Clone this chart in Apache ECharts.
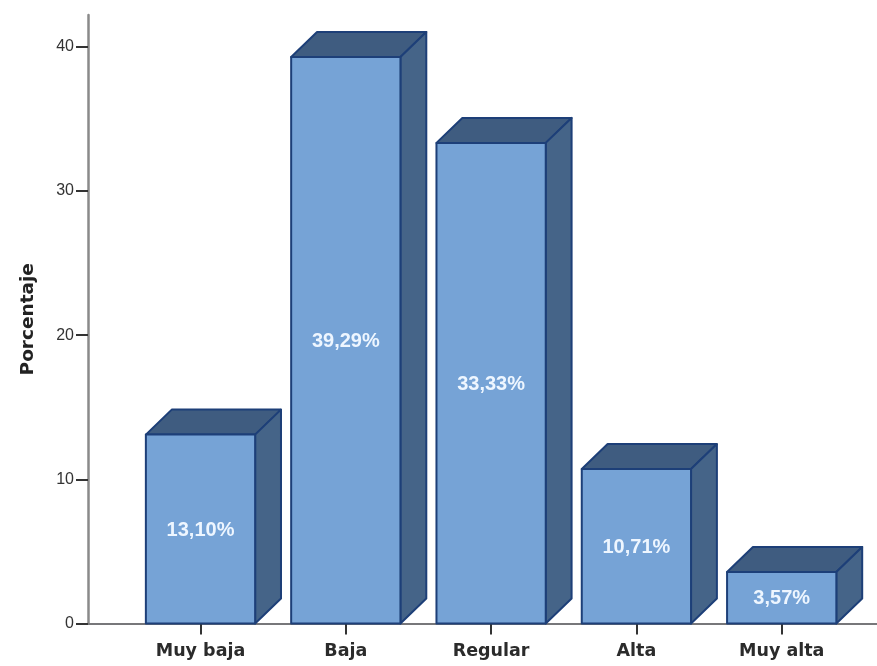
<!DOCTYPE html>
<html>
<head>
<meta charset="utf-8">
<style>html,body{margin:0;padding:0;background:#fff}#c{width:877px;height:666px}</style>
<script src="https://cdn.jsdelivr.net/npm/echarts@6/dist/echarts.min.js"></script>
</head>
<body>
<div id="c"></div>
<script>
const categories = ['Muy baja', 'Baja', 'Regular', 'Alta', 'Muy alta'];
const percentages = [13.10, 39.29, 33.33, 10.71, 3.57];
const valueLabels = ['13,10%', '39,29%', '33,33%', '10,71%', '3,57%'];
const yTicks = [0, 10, 20, 30, 40];
const yMax = 42.2;

const chart = echarts.init(document.getElementById('c'), null, {renderer: 'canvas'});
const EDGE = '#1d3f78', FRONT = '#76a3d6', TOP = '#3f5c80', SIDE = '#456488';

function renderBar(params, api) {
  const idx = api.value(0), val = api.value(1);
  const top = api.coord([idx, val]);
  const base = api.coord([idx, 0]);
  const band = api.size([1, 0])[0];
  const w = band * 0.752, dx = band * 0.178, dy = band * 0.172;
  const l = top[0] - w / 2, r = top[0] + w / 2, t = top[1], b = base[1];
  const stroke = {stroke: EDGE, lineWidth: 2, lineJoin: 'round'};
  return {
    type: 'group',
    children: [
      {type: 'polygon', shape: {points: [[l, t], [r, t], [r + dx, t - dy], [l + dx, t - dy]]},
        style: Object.assign({fill: TOP}, stroke)},
      {type: 'polygon', shape: {points: [[r, t], [r + dx, t - dy], [r + dx, b - dy], [r, b]]},
        style: Object.assign({fill: SIDE}, stroke)},
      {type: 'rect', shape: {x: l, y: t, width: w, height: b - t},
        style: Object.assign({fill: FRONT}, stroke)},
      {type: 'text', x: top[0], y: (t + b) / 2 + 1,
        style: {text: valueLabels[idx], fill: '#eef6ff', font: 'bold 20px "Liberation Sans"',
          align: 'center', verticalAlign: 'middle'}}
    ]
  };
}

chart.setOption({
  animation: false,
  backgroundColor: '#ffffff',
  grid: [
    {left: 127.85, top: 15, width: 726.5, height: 608.5},
    {left: 88, top: 15, width: 789, height: 608.5}
  ],
  xAxis: [
    {type: 'category', gridIndex: 0, data: categories,
      axisLine: {show: false},
      axisTick: {show: true, alignWithLabel: true, length: 11, lineStyle: {color: '#333', width: 2}},
      axisLabel: {margin: 19, color: '#2b2b2b', fontFamily: 'DejaVu Sans', fontWeight: 'bold', fontSize: 17.5}},
    {type: 'value', gridIndex: 1, min: 0, max: 1,
      axisLine: {show: true, onZero: false, lineStyle: {color: '#77777a', width: 2}},
      axisTick: {show: false}, axisLabel: {show: false}, splitLine: {show: false}}
  ],
  yAxis: [
    {type: 'value', gridIndex: 0, min: 0, max: yMax, show: false, splitLine: {show: false}},
    {type: 'value', gridIndex: 1, min: 0, max: yMax,
      name: 'Porcentaje', nameLocation: 'middle', nameGap: 50,
      nameTextStyle: {color: '#222', fontFamily: 'DejaVu Sans', fontWeight: 'bold', fontSize: 18.5},
      axisLine: {show: true, lineStyle: {color: '#8a8a8a', width: 2.5}},
      axisTick: {show: true, length: 12, customValues: yTicks, lineStyle: {color: '#333', width: 2}},
      axisLabel: {margin: 14, color: '#333', fontFamily: 'Liberation Sans', fontSize: 16, customValues: yTicks},
      splitLine: {show: false}}
  ],
  series: [{
    type: 'custom', xAxisIndex: 0, yAxisIndex: 0, clip: false,
    renderItem: renderBar,
    encode: {x: 0, y: 1},
    data: percentages.map((v, i) => [i, v])
  }]
});
</script>
</body>
</html>
